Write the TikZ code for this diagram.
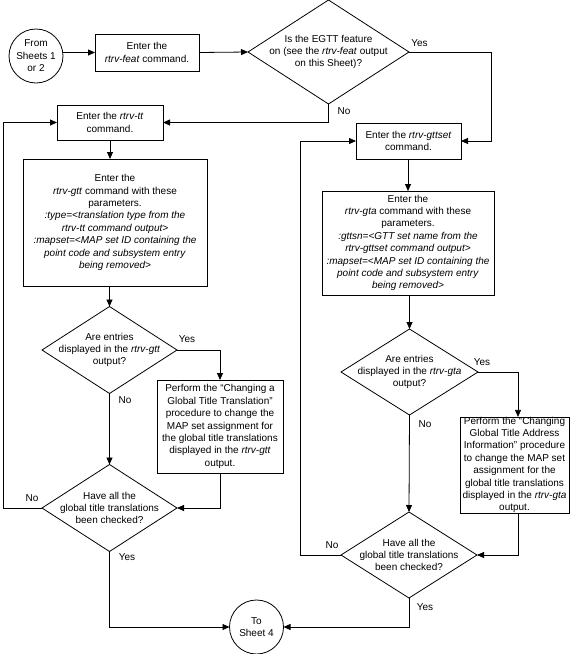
\documentclass[tikz,border=0pt]{standalone}
\usepackage{fontspec}
\setmainfont{Liberation Sans}
\usetikzlibrary{arrows.meta,shapes.geometric,calc}
\begin{document}
\begin{tikzpicture}[x=0.75pt,y=-0.75pt,
  font=\fontsize{7.5pt}{9.3pt}\selectfont,
  every node/.style={inner sep=0pt,outer sep=0pt},
  line width=0.6pt,
  boxsz/.style 2 args={draw,rectangle,minimum width={#1*0.75pt},minimum height={#2*0.75pt},align=center},
  dmsz/.style 2 args={draw,diamond,minimum width={#1*0.75pt},minimum height={#2*0.75pt}},
  termsz/.style={draw,circle,minimum size={54*0.75pt},align=center},
  txt/.style={align=center},
  arr/.style={-{Triangle[length=5.25pt,width=4.5pt]}},
  lbl/.style={font=\fontsize{7.5pt}{9pt}\selectfont}]
\useasboundingbox (0,0) rectangle (575,654);

% nodes
\node[termsz] (c1) at (36,56) {From\\Sheets 1\\or 2};
\node[boxsz={104}{37}] (b1) at (147,52.5) {Enter the\\\textit{rtrv-feat} command.};
\node[dmsz={161}{104}] (d1) at (328.5,52) {};
\node[txt] (d1t) at (d1) {Is the EGTT feature\\on (see the \textit{rtrv-feat} output\\on this Sheet)?};
\node[boxsz={106}{35}] (b2) at (110,122.5) {Enter the \textit{rtrv-tt}\\command.};
\node[boxsz={105}{36}] (b3) at (408.5,141) {Enter the \textit{rtrv-gttset}\\command.};
\node[boxsz={184}{127}] (b4) at (115,222.5) {Enter the\\\textit{rtrv-gtt} command with these\\parameters.\\\textit{:type=<translation type from the}\\\textit{rtrv-tt command output>}\\\textit{:mapset=<MAP set ID containing the}\\\textit{point code and subsystem entry}\\\textit{being removed>}};
\node[boxsz={172}{104}] (b5) at (408,243) {Enter the\\\textit{rtrv-gta} command with these\\parameters.\\\textit{:gttsn=<GTT set name from the}\\\textit{rtrv-gttset command output>}\\\textit{:mapset=<MAP set ID containing the}\\\textit{point code and subsystem entry}\\\textit{being removed>}};
\node[dmsz={135}{87}] (d2) at (109.5,350) {};
\node[txt] (d2t) at (d2) {Are entries\\displayed in the \textit{rtrv-gtt}\\output?};
\node[dmsz={137}{86}] (d3) at (409.5,372) {};
\node[txt] (d3t) at (d3) {Are entries\\displayed in the \textit{rtrv-gta}\\output?};
\node[boxsz={126}{93}] (p1) at (220,426.5) {Perform the “Changing a\\Global Title Translation”\\procedure to change the\\MAP set assignment for\\the global title translations\\displayed in the \textit{rtrv-gtt}\\output.};
\node[boxsz={109}{96}] (p2) at (514.5,465) {Perform the “Changing\\Global Title Address\\Information” procedure\\to change the MAP set\\assignment for the\\global title translations\\displayed in the \textit{rtrv-gta}\\output.};
\node[dmsz={135}{87}] (d4) at (109.5,508) {};
\node[txt] (d4t) at (d4) {Have all the\\global title translations\\been checked?};
\node[dmsz={136}{86}] (d5) at (409,555) {};
\node[txt] (d5t) at (d5) {Have all the\\global title translations\\been checked?};
\node[termsz] (c2) at (256.5,627) {To\\Sheet 4};

% helper coordinates
\coordinate (k1) at (491,141);
\coordinate (k2) at (3,508);
\coordinate (k3) at (300,555);
\coordinate (k4) at ($(p2.north)+(3.5,0)$);
\coordinate (k5) at ($(p2.south)+(3.5,0)$);

% connectors
\draw[arr] (c1.east |- b1.west) -- (b1.west);
\draw[arr] (b1.east) -- (d1.west);
\draw[arr] (d1.east) -| (k1) -- (b3.east);
\draw[arr] (d1.south) |- (b2.east);
\draw[arr] (b2.south) -- (b2.south |- b4.north);
\draw[arr] (b4.south -| d2.north) -- (d2.north);
\draw[arr] (d2.east) -| (p1.north);
\draw[arr] (d2.south) -- (d4.north);
\draw[arr] (p1.south) |- (d4.east);
\draw[arr] (d4.west) -- (k2) |- (b2.west);
\draw[arr] (d4.south) |- (c2.west);
\draw[arr] (b3.south -| b5.north) -- (b5.north);
\draw[arr] (b5.south -| d3.north) -- (d3.north);
\draw[arr] (d3.east) -| (k4);
\draw[arr] (d3.south) -- (d5.north);
\draw[arr] (k5) |- (d5.east);
\draw[arr] (d5.west) -- (k3) |- (b3.west);
\draw[arr] (d5.south) |- (c2.east);

% labels
\node[lbl] (l1) at (419.5,43) {Yes};
\node[lbl] (l2) at (344,111) {No};
\node[lbl] (l3) at (187,339) {Yes};
\node[lbl] (l4) at (125,400) {No};
\node[lbl] (l5) at (32,498) {No};
\node[lbl] (l6) at (127,557) {Yes};
\node[lbl] (l7) at (482,362) {Yes};
\node[lbl] (l8) at (425,424) {No};
\node[lbl] (l9) at (332,545) {No};
\node[lbl] (l10) at (425,607) {Yes};
\end{tikzpicture}
\end{document}
